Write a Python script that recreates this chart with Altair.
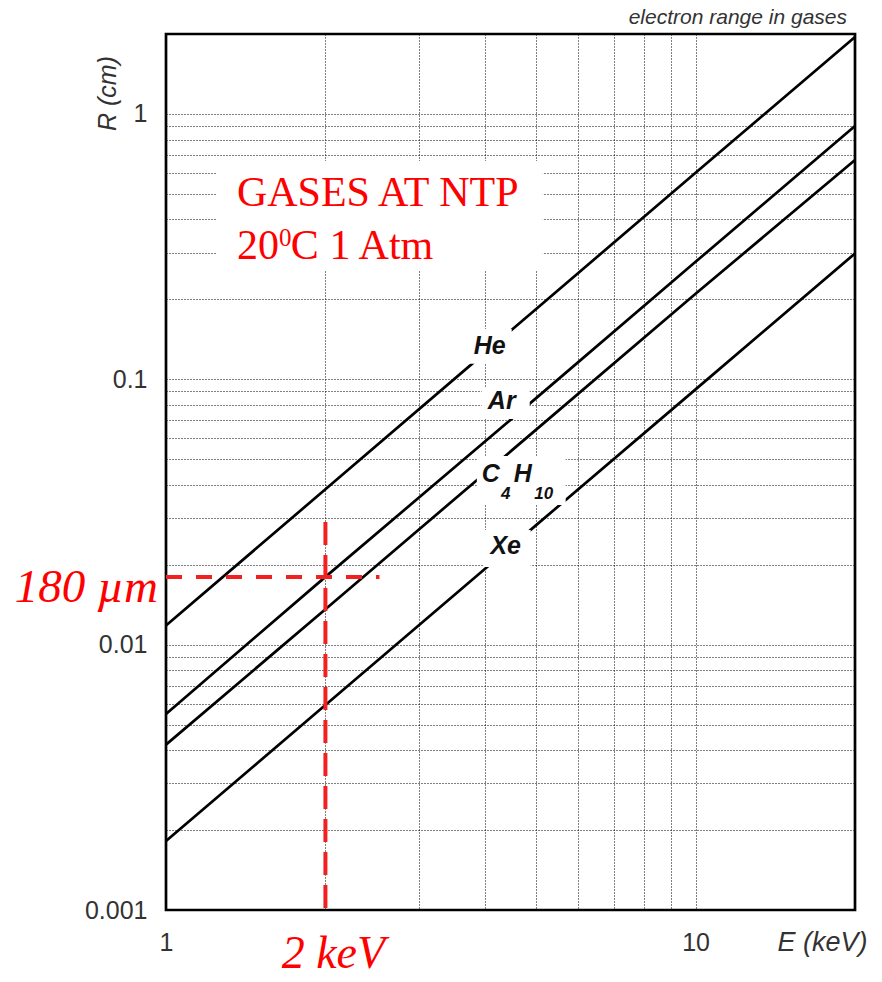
import altair as alt
import pandas as pd

# ---- data ----
energy_kev = [1, 2, 5, 10, 20]
range_he = [0.0118, 0.0385, 0.184, 0.600, 1.95]
range_ar = [0.00548, 0.0180, 0.0849, 0.277, 0.90]
range_c4h10 = [0.0042, 0.0136, 0.0646, 0.210, 0.67]
range_xe = [0.00182, 0.00592, 0.0282, 0.0916, 0.298]
gases = ["He", "Ar", "C4H10", "Xe"]

# curve labels (bold italic) and subscripts
label_text = ["He", "Ar", "C", "H", "Xe"]
label_e = [4.087, 4.305, 4.105, 4.716, 4.380]
label_r = [0.1330, 0.08248, 0.04396, 0.04396, 0.02344]
sub_text = ["4", "10"]
sub_e = [4.380, 5.167]
sub_r = [0.03696, 0.03696]

# white boxes behind labels and the note
box_e1 = [3.713, 3.946, 3.863, 3.981, 1.248]
box_e2 = [4.496, 4.862, 5.685, 4.883, 5.145]
box_r1 = [0.1548, 0.09357, 0.05140, 0.02705, 0.6651]
box_r2 = [0.1143, 0.07088, 0.03360, 0.01962, 0.2561]

# red annotation
marker_e = [2.0]
marker_r = [0.018]
vline_top_r = [0.029]
hline_end_e = [2.53]

# note text
note_text = ["GASES AT NTP", "20", "C 1 Atm"]
note_e = [1.361, 1.361, 1.721]
note_r = [0.4499, 0.2841, 0.2841]
sup_text = ["0"]
sup_e = [1.634]
sup_r = [0.318]

chart_title = ["electron range in gases"]

W, H = 689, 876
RED = "#ff0000"
DASH_RED = "#f32020"

x_grid = [1, 2, 3, 4, 5, 6, 7, 8, 9, 10]
y_grid = [round(m * 10.0 ** e, 6) for e in (-3, -2, -1) for m in range(1, 10)] + [1, 2]

xscale = alt.Scale(type="log", domain=[1, 20], nice=False)
yscale = alt.Scale(type="log", domain=[0.001, 2], nice=False)

xaxis = alt.Axis(
    values=x_grid, title="E (keV)", grid=True, ticks=False, domain=False,
    labelExpr="datum.value == 1 || datum.value == 10 ? '' + datum.value : ''",
    labelFont="Liberation Sans", labelFontSize=25, labelColor="#333",
    labelPadding=20, labelFlush=False,
    titleFont="Liberation Sans", titleFontSize=27, titleFontStyle="italic",
    titleFontWeight="normal", titleColor="#333",
    titleX=656, titleY=32, titleAlign="center", titleBaseline="middle",
)
yaxis = alt.Axis(
    values=y_grid, title="R (cm)", grid=True, ticks=False, domain=False,
    labelExpr="indexof([0.001, 0.01, 0.1, 1], datum.value) >= 0 ? '' + datum.value : ''",
    labelFont="Liberation Sans", labelFontSize=25, labelColor="#333",
    labelPadding=19, labelFlush=False,
    titleFont="Liberation Sans", titleFontSize=25, titleFontStyle="italic",
    titleFontWeight="normal", titleColor="#333",
    titleX=-59, titleY=59, titleAngle=270, titleAlign="center", titleBaseline="middle",
)


def X(f):
    return alt.X(f"{f}:Q", scale=xscale, axis=xaxis)


def Y(f):
    return alt.Y(f"{f}:Q", scale=yscale, axis=yaxis)


rows = []
for g, rs in zip(gases, [range_he, range_ar, range_c4h10, range_xe]):
    for e, r in zip(energy_kev, rs):
        rows.append({"gas": g, "E": e, "R": r})
curves = pd.DataFrame(rows)

lines = alt.Chart(curves).mark_line(color="black", strokeWidth=2.7).encode(
    x=X("E"), y=Y("R"), detail="gas:N"
)

boxes_df = pd.DataFrame({"e1": box_e1, "e2": box_e2, "r1": box_r1, "r2": box_r2})
boxes = alt.Chart(boxes_df).mark_rect(color="white").encode(
    x=X("e1"), x2="e2", y=Y("r1"), y2="r2"
)

labels = alt.Chart(pd.DataFrame({"t": label_text, "E": label_e, "R": label_r})).mark_text(
    font="Liberation Sans", fontSize=25, fontStyle="italic", fontWeight="bold",
    color="#111", align="center", baseline="middle"
).encode(x=X("E"), y=Y("R"), text="t:N")

subs = alt.Chart(pd.DataFrame({"t": sub_text, "E": sub_e, "R": sub_r})).mark_text(
    font="Liberation Sans", fontSize=17, fontStyle="italic", fontWeight="bold",
    color="#111", align="center", baseline="middle"
).encode(x=X("E"), y=Y("R"), text="t:N")

vline = alt.Chart(pd.DataFrame({"E": marker_e, "R": vline_top_r})).mark_rule(
    color=DASH_RED, strokeWidth=4, strokeDash=[23, 10]
).encode(x=X("E"), y=Y("R"), y2=alt.value(H + 7))

hline = alt.Chart(pd.DataFrame({"E": [1.0], "E2": hline_end_e, "R": marker_r})).mark_rule(
    color=DASH_RED, strokeWidth=4, strokeDash=[16, 14]
).encode(x=X("E"), x2="E2", y=Y("R"))

um_text = alt.Chart(pd.DataFrame({"E": [1.0], "R": [0.01452], "t": ["180 \u00b5m"]})).mark_text(
    font="Liberation Serif", fontSize=47, fontStyle="italic", color=RED,
    align="right", baseline="alphabetic", dx=-8
).encode(x=X("E"), y=Y("R"), text="t:N")

kev_text = alt.Chart(pd.DataFrame({"E": marker_e, "t": ["2 keV"]})).mark_text(
    font="Liberation Serif", fontSize=46, fontStyle="italic", color=RED,
    align="center", baseline="alphabetic", dx=8
).encode(x=X("E"), y=alt.value(H + 58), text="t:N")

note = alt.Chart(pd.DataFrame({"t": note_text, "E": note_e, "R": note_r})).mark_text(
    font="Liberation Serif", fontSize=42, color=RED, align="left", baseline="alphabetic"
).encode(x=X("E"), y=Y("R"), text="t:N")

note_sup = alt.Chart(pd.DataFrame({"t": sup_text, "E": sup_e, "R": sup_r})).mark_text(
    font="Liberation Serif", fontSize=25, color=RED, align="left", baseline="alphabetic"
).encode(x=X("E"), y=Y("R"), text="t:N")

title_text = alt.Chart(pd.DataFrame({"t": chart_title})).mark_text(
    font="Liberation Sans", fontSize=21, fontStyle="italic", color="#333",
    align="right", baseline="alphabetic"
).encode(x=alt.value(W - 8), y=alt.value(-10), text="t:N")

chart = alt.layer(
    lines, boxes, labels, subs, vline, hline, um_text, kev_text, note, note_sup, title_text
).properties(
    width=W, height=H,
    autosize=alt.AutoSizeParams(type="none"),
    padding={"left": 158, "top": 26, "right": 19, "bottom": 64},
).configure_view(
    stroke="black", strokeWidth=2.7
).configure_axis(
    gridColor="#000", gridDash=[1, 2], gridWidth=1, gridOpacity=1
)

chart.save("out.html", embed_options={"renderer": "svg", "actions": False})
